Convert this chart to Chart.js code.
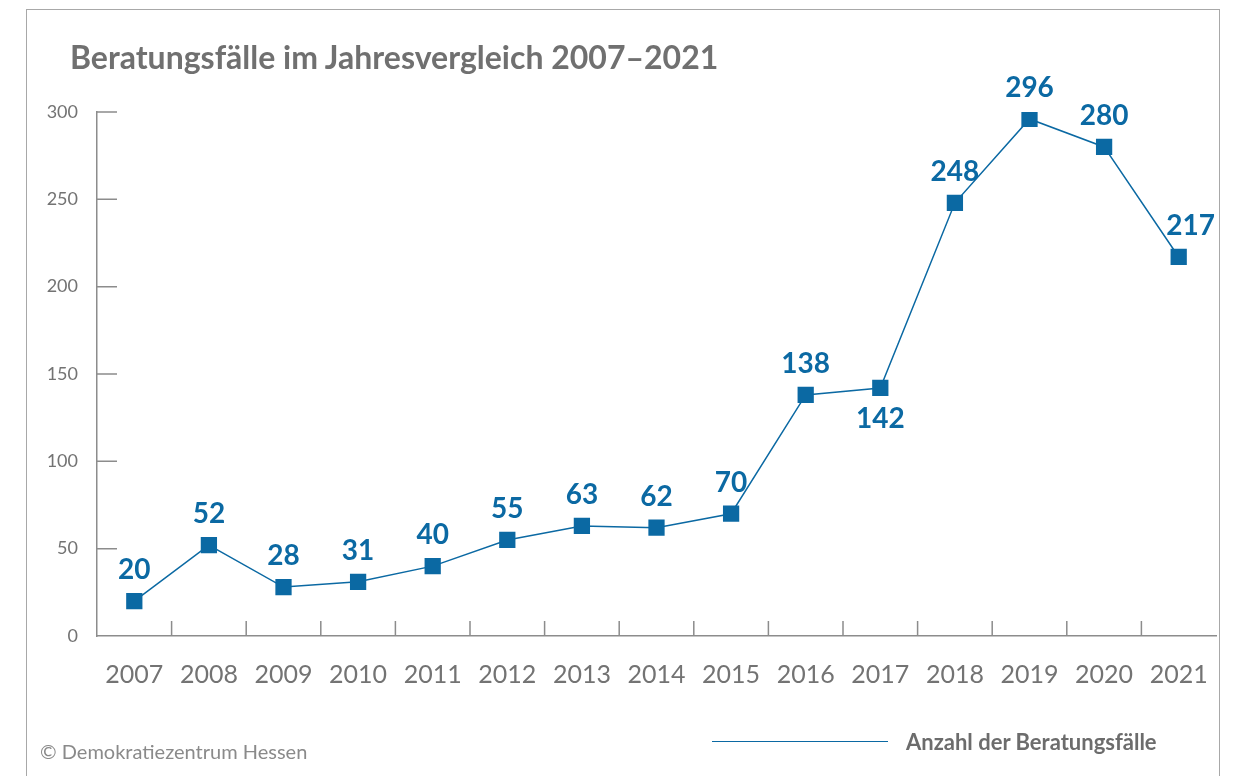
<!DOCTYPE html>
<html>
<head>
<meta charset="utf-8">
<script src="https://cdn.jsdelivr.net/npm/chart.js@4/dist/chart.umd.min.js"></script>
<style>
html, body { margin: 0; padding: 0; width: 1233px; height: 776px; overflow: hidden; background: #fff; font-family: Lato, sans-serif; }
#frame { position: absolute; left: 26px; top: 9px; width: 1192px; height: 820px; border: 1px solid #a8a8a8; }
#chartBox { position: absolute; left: 0; top: 0; width: 1233px; height: 776px; }
#title { position: absolute; left: 70px; top: 37px; font-weight: bold; font-size: 32px; color: #707070; white-space: nowrap; }
#source { position: absolute; left: 40px; top: 739px; font-size: 20px; color: #8a8a8a; white-space: nowrap; }
#legend { position: absolute; left: 712px; top: 728px; white-space: nowrap; }
#legend .line { display: inline-block; width: 176px; height: 0; border-top: 1.5px solid #0b69a3; vertical-align: middle; margin-right: 18px; }
#legend .text { font-weight: bold; font-size: 22px; color: #6c6c6c; vertical-align: middle; }
</style>
</head>
<body>
<div id="frame"></div>
<div id="chartBox"><canvas id="casesChart" width="1233" height="776"></canvas></div>
<div id="title">Beratungsfälle im Jahresvergleich 2007–2021</div>
<div id="source">© Demokratiezentrum Hessen</div>
<div id="legend"><span class="line"></span><span class="text">Anzahl der Beratungsfälle</span></div>
<script>
const years = ["2007", "2008", "2009", "2010", "2011", "2012", "2013", "2014", "2015", "2016", "2017", "2018", "2019", "2020", "2021"];
const cases = [20, 52, 28, 31, 40, 55, 63, 62, 70, 138, 142, 248, 296, 280, 217];
const yTicks = [0, 50, 100, 150, 200, 250, 300];

const BLUE = "#0b69a3";
const AXIS = "#8c8c8c";
const GREY_TEXT = "#737373";

// small tick marks drawn inside the plot, like the original
const innerTicks = {
    id: "innerTicks",
    beforeDatasetsDraw(chart) {
        const { ctx, chartArea, scales: { x, y } } = chart;
        ctx.save();
        ctx.strokeStyle = AXIS;
        ctx.lineWidth = 1.5;
        ctx.beginPath();
        for (let i = 1; i < years.length; i++) {
            const px = (x.getPixelForValue(i - 1) + x.getPixelForValue(i)) / 2;
            ctx.moveTo(px, chartArea.bottom);
            ctx.lineTo(px, chartArea.bottom - 15);
        }
        yTicks.forEach(v => {
            if (v === 0) return;
            const py = y.getPixelForValue(v);
            ctx.moveTo(chartArea.left, py);
            ctx.lineTo(chartArea.left + 20, py);
        });
        ctx.stroke();
        ctx.restore();
    }
};

// value labels above (or below) each point
const valueLabels = {
    id: "valueLabels",
    afterDatasetsDraw(chart) {
        const ctx = chart.ctx;
        const meta = chart.getDatasetMeta(0);
        ctx.save();
        ctx.font = "bold 28px Lato";
        ctx.fillStyle = BLUE;
        ctx.textAlign = "center";
        ctx.textBaseline = "middle";
        meta.data.forEach((pt, i) => {
            const below = years[i] === "2017";
            const dx = years[i] === "2021" ? 12 : 0;
            ctx.fillText(String(cases[i]), pt.x + dx, pt.y + (below ? 31 : -31));
        });
        ctx.restore();
    }
};

new Chart(document.getElementById("casesChart").getContext("2d"), {
    type: "line",
    data: {
        labels: years,
        datasets: [{
            label: "Anzahl der Beratungsfälle",
            data: cases,
            borderColor: BLUE,
            backgroundColor: BLUE,
            borderWidth: 1.5,
            tension: 0,
            pointStyle: "rect",
            pointRadius: 11.5,
            pointHoverRadius: 11.5,
            pointBackgroundColor: BLUE,
            pointBorderWidth: 0
        }]
    },
    options: {
        responsive: false,
        devicePixelRatio: 1,
        animation: false,
        layout: { padding: { left: 0, top: 112, right: 17, bottom: 0 } },
        plugins: {
            legend: { display: false },
            tooltip: { enabled: false }
        },
        scales: {
            x: {
                offset: true,
                grid: { display: false },
                border: { color: AXIS, width: 1.5 },
                ticks: { color: GREY_TEXT, font: { family: "Lato", size: 25 }, padding: 16, maxRotation: 0 },
                afterFit: s => { s.height = 140; }
            },
            y: {
                min: 0,
                max: 300,
                grid: { display: false },
                border: { color: AXIS, width: 1.5 },
                ticks: { stepSize: 50, color: GREY_TEXT, font: { family: "Lato", size: 18 }, padding: 11 },
                afterFit: s => { s.width = 97; }
            }
        }
    },
    plugins: [innerTicks, valueLabels]
});
</script>
</body>
</html>
